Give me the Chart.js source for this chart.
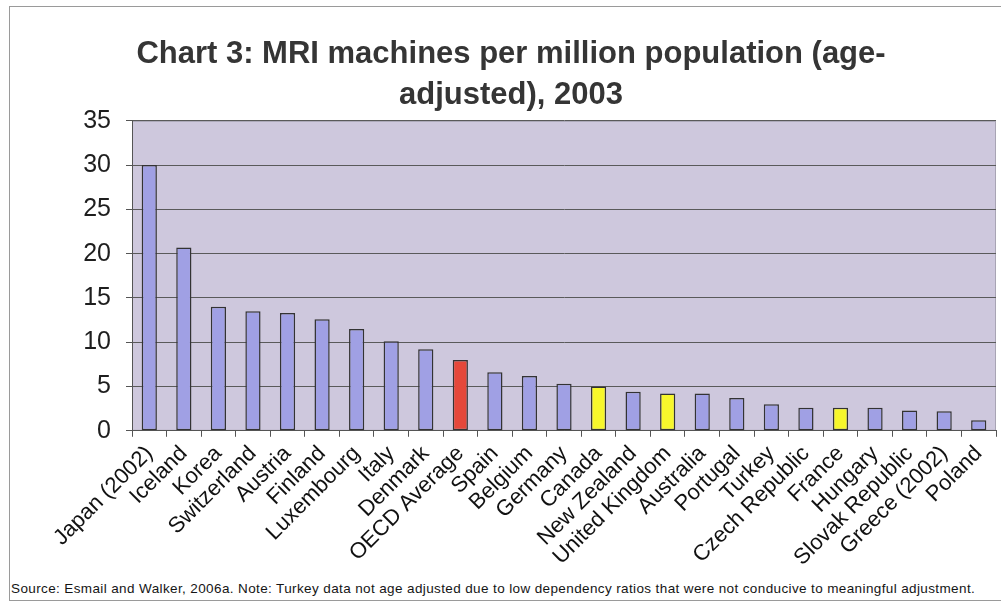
<!DOCTYPE html>
<html lang="en">
<head>
    <meta charset="UTF-8">
    <title>MRI machines per million population</title>
    <script src="https://cdn.jsdelivr.net/npm/chart.js"></script>
    <style>
        html, body {
            margin: 0;
            padding: 0;
            background: #ffffff;
            overflow: hidden;
            font-family: Arial, "Liberation Sans", sans-serif;
        }
        .frame {
            position: absolute;
            left: 9px;
            top: 6px;
            width: 1010px;
            height: 593px;
            border: 1px solid #9a9a9a;
        }
        .chart-box {
            position: absolute;
            left: 0;
            top: 0;
            width: 1006px;
            height: 568px;
        }
        .source {
            position: absolute;
            left: 1px;
            top: 574px;
            font-size: 13.5px;
            letter-spacing: 0.38px;
            color: #151515;
            white-space: nowrap;
        }
    </style>
</head>
<body>
<div class="frame">
    <div class="chart-box">
        <canvas id="mriChart"></canvas>
    </div>
    <div class="source">Source: Esmail and Walker, 2006a. Note: Turkey data not age adjusted due to low dependency ratios that were not conducive to meaningful adjustment.</div>
</div>

<script>
    const countries = [
        'Japan (2002)', 'Iceland', 'Korea', 'Switzerland', 'Austria', 'Finland',
        'Luxembourg', 'Italy', 'Denmark', 'OECD Average', 'Spain', 'Belgium',
        'Germany', 'Canada', 'New Zealand', 'United Kingdom', 'Australia',
        'Portugal', 'Turkey', 'Czech Republic', 'France', 'Hungary',
        'Slovak Republic', 'Greece (2002)', 'Poland'
    ];
    const mriPerMillion = [
        30.0, 20.7, 14.0, 13.5, 13.3, 12.6,
        11.5, 10.1, 9.2, 8.0, 6.6, 6.2,
        5.3, 5.0, 4.4, 4.2, 4.2,
        3.7, 3.0, 2.6, 2.6, 2.6,
        2.3, 2.2, 1.2
    ];
    const yTicks = [0, 5, 10, 15, 20, 25, 30, 35];

    // OECD average in red, Canada / UK / France in yellow
    const highlight = {
        'OECD Average': '#e5483a',
        'Canada': '#f7f72c',
        'United Kingdom': '#f7f72c',
        'France': '#f7f72c'
    };
    const barColors = countries.map(c => highlight[c] || '#a0a0e4');

    // shaded plot area behind the bars
    const plotBackground = {
        id: 'plotBackground',
        beforeDraw(chart) {
            const { ctx, chartArea: a } = chart;
            ctx.save();
            ctx.fillStyle = '#cec8dd';
            ctx.fillRect(a.left, a.top, a.right - a.left, a.bottom - a.top);
            ctx.strokeStyle = '#a8a4b4';
            ctx.lineWidth = 1;
            ctx.strokeRect(a.left + 0.5, a.top + 0.5, a.right - a.left - 1, a.bottom - a.top - 1);
            ctx.restore();
        }
    };

    const ctx = document.getElementById('mriChart').getContext('2d');
    new Chart(ctx, {
        type: 'bar',
        data: {
            labels: countries,
            datasets: [{
                data: mriPerMillion,
                backgroundColor: barColors,
                borderColor: '#333333',
                borderWidth: 1.5,
                borderSkipped: false,
                barPercentage: 0.44,
                categoryPercentage: 1.0
            }]
        },
        options: {
            responsive: true,
            maintainAspectRatio: false,
            animation: false,
            layout: {
                padding: { left: 16, right: 20, top: 0, bottom: 0 }
            },
            scales: {
                y: {
                    min: 0,
                    max: 35,
                    afterBuildTicks(axis) {
                        axis.ticks = yTicks.map(v => ({ value: v }));
                    },
                    afterFit(axis) {
                        axis.width = 106;
                    },
                    border: { display: true, color: '#555555', width: 1 },
                    grid: {
                        color: '#5a5a5a',
                        lineWidth: 1,
                        drawTicks: true,
                        tickLength: 6,
                        tickColor: '#555555'
                    },
                    ticks: {
                        color: '#1e1e1e',
                        padding: 15,
                        font: { family: 'Arial', size: 25, lineHeight: 0.8 }
                    }
                },
                x: {
                    offset: true,
                    border: { display: true, color: '#555555', width: 1 },
                    grid: {
                        offset: true,
                        drawOnChartArea: false,
                        drawTicks: true,
                        tickLength: 6,
                        tickColor: '#555555'
                    },
                    ticks: {
                        autoSkip: false,
                        maxRotation: 45,
                        minRotation: 45,
                        color: '#111111',
                        padding: 4,
                        font: { family: 'Arial', size: 22 }
                    }
                }
            },
            plugins: {
                legend: { display: false },
                tooltip: { enabled: false },
                title: {
                    display: true,
                    text: ['Chart 3: MRI machines per million population (age-', 'adjusted), 2003'],
                    color: '#353535',
                    padding: { top: 27, bottom: 5 },
                    font: { family: 'Arial', size: 31, weight: 'bold', lineHeight: 1.32 }
                }
            }
        },
        plugins: [plotBackground]
    });
</script>
</body>
</html>
